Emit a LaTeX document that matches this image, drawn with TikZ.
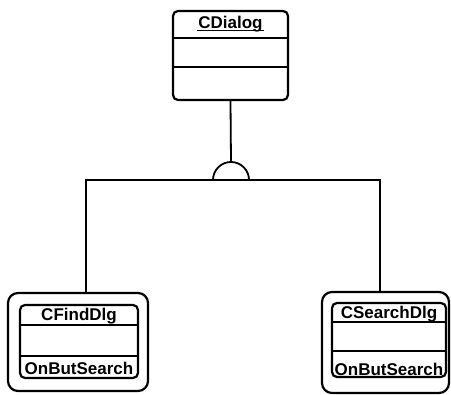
\documentclass[tikz,border=0pt]{standalone}
\usepackage{fontspec}
\setmainfont{Liberation Sans}
\usetikzlibrary{positioning}

\tikzset{
  classbox/.style={draw, line width=2.2pt, rounded corners=5pt, minimum width=#1},
  outerbox/.style={draw, line width=2.2pt, rounded corners=10pt},
  lbl/.style={font=\bfseries\fontsize{17}{19}\selectfont, inner sep=1pt},
  link/.style={line width=1.8pt}
}

\begin{document}
\begin{tikzpicture}[x=1pt,y=-1pt]
	\useasboundingbox (0,0) rectangle (451,395);
	% base class
	\node[classbox=115pt, minimum height=89pt] (dialog) at (230.5,55.5) {};
	\draw[line width=2pt] ([yshift=-28pt]dialog.north west) -- ([yshift=-28pt]dialog.north east);
	\draw[line width=2pt] ([yshift=-57pt]dialog.north west) -- ([yshift=-57pt]dialog.north east);
	\node[lbl] (dialogname) at (230.5,24) {CDialog};
	\draw[line width=1.2pt] ([yshift=-2.5pt]dialogname.base west) -- ([yshift=-2.5pt]dialogname.base east);
	% derived classes
	\node[outerbox, minimum width=140pt, minimum height=98pt] (findout) at (78,342) {};
	\node[classbox=118pt, minimum height=73pt] (find) at (79,341.5) {};
	\draw[line width=2pt] ([yshift=-21pt]find.north west) -- ([yshift=-21pt]find.north east);
	\draw[line width=2pt] ([yshift=-52pt]find.north west) -- ([yshift=-52pt]find.north east);
	\node[lbl] (findname) at (79,316) {CFindDlg};
	\node[lbl] (findop) at (79,368) {OnButSearch};
	\node[outerbox, minimum width=127pt, minimum height=101pt] (searchout) at (385.5,342.5) {};
	\node[classbox=114pt, minimum height=74pt] (search) at (389,340) {};
	\draw[line width=2pt] ([yshift=-20pt]search.north west) -- ([yshift=-20pt]search.north east);
	\draw[line width=2pt] ([yshift=-49pt]search.north west) -- ([yshift=-49pt]search.north east);
	\node[lbl] (searchname) at (389,314) {CSearchDlg};
	\node[lbl] (searchop) at (389,369) {OnButSearch};
	% generalization
	\coordinate (gen) at (231,180);
	\coordinate (jl) at (86,180);
	\coordinate (jr) at (380,180);
	\draw[link] (dialog.south) -- ([yshift=18pt]gen);
	\draw[link] ([xshift=-18pt]gen) arc[start angle=180, end angle=0, radius=18pt];
	\draw[link] (findout.north -| jl) -- (jl) -- (jr) -- (searchout.north -| jr);
\end{tikzpicture}
\end{document}
